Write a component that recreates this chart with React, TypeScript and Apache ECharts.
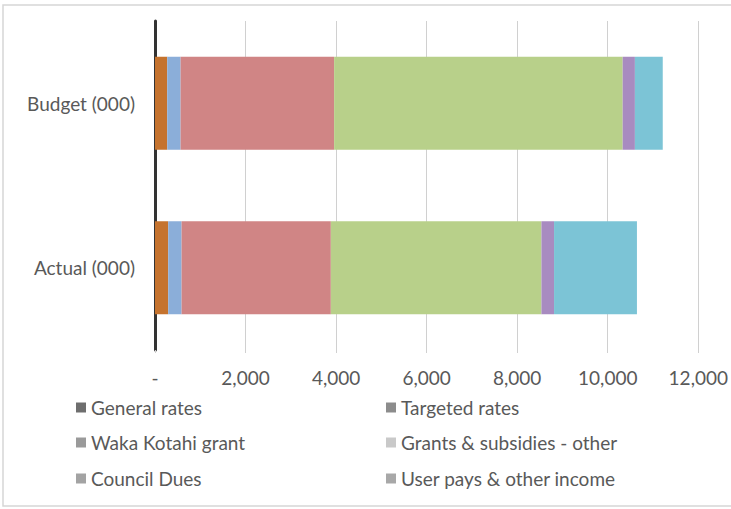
import React, { useEffect, useRef } from "react";
import * as echarts from "echarts";

const categories = ["Budget (000)", "Actual (000)"];
const seriesNames = [
  "General rates",
  "Targeted rates",
  "Waka Kotahi grant",
  "Grants & subsidies - other",
  "Council Dues",
  "User pays & other income",
];
const generalRates = [270, 292];
const targetedRates = [295, 295];
const wakaKotahi = [3391, 3297];
const grantsOther = [6374, 4651];
const councilDues = [270, 279];
const userPays = [615, 1831];
const seriesValues = [generalRates, targetedRates, wakaKotahi, grantsOther, councilDues, userPays];
const xTicks = [0, 2000, 4000, 6000, 8000, 10000, 12000];

const barColors = ["#C5732E", "#8BAED9", "#D08585", "#B8D08A", "#A88BC0", "#7CC4D6"];
const legendIconColors = ["#6e6e6e", "#8c8c8c", "#9a9a9a", "#c9c9c9", "#a3a3a3", "#a8a8a8"];
const legendPos = [
  [76, 398], [386, 398],
  [76, 433], [386, 433],
  [76, 469], [386, 469],
];

export default function App() {
  const ref = useRef<HTMLDivElement>(null);
  useEffect(() => {
    if (!ref.current) return;
    const chart = echarts.init(ref.current, null, { renderer: "svg" });
    const font = "Lato, 'Noto Sans', sans-serif";
    chart.setOption({
      animation: false,
      backgroundColor: "#ffffff",
      textStyle: { fontFamily: font },
      grid: { left: 155, right: 29, top: 21, bottom: 159, containLabel: false },
      xAxis: {
        type: "value",
        min: xTicks[0],
        max: xTicks[xTicks.length - 1],
        interval: 2000,
        axisLine: { show: false },
        axisTick: { show: true, length: 3, lineStyle: { color: "#d0d0d0" } },
        splitLine: { show: true, lineStyle: { color: "#d0d0d0", width: 1 } },
        axisLabel: {
          margin: 18,
          fontSize: 19,
          color: "#595959",
          fontFamily: font,
          formatter: (v: number) => (v === 0 ? "-" : v.toLocaleString("en-US")),
        },
      },
      yAxis: {
        type: "category",
        inverse: true,
        data: categories,
        axisLine: { show: true, lineStyle: { color: "#333333", width: 3 } },
        axisTick: { show: false },
        axisLabel: { margin: 20, fontSize: 19, color: "#595959", fontFamily: font },
      },
      legend: seriesNames.map((n, i) => ({
        data: [{ name: n, itemStyle: { color: legendIconColors[i] } }],
        left: legendPos[i][0],
        top: legendPos[i][1],
        padding: 0,
        itemWidth: 10,
        itemHeight: 10,
        icon: "rect",
        selectedMode: false,
        textStyle: { fontSize: 19, color: "#595959", fontFamily: font, padding: [0, 0, 0, 0] },
      })),
      series: seriesNames.map((n, i) => ({
        name: n,
        type: "bar",
        stack: "total",
        barWidth: "56.5%",
        data: seriesValues[i],
        itemStyle: { color: barColors[i] },
      })),
      graphic: [
        {
          type: "rect",
          shape: { x: 3, y: 5, width: 760, height: 501 },
          style: { fill: "none", stroke: "#d6d6d6", lineWidth: 1.5 },
          silent: true,
        },
      ],
    });
    return () => chart.dispose();
  }, []);
  return (
    <div
      ref={ref}
      style={{ position: "fixed", left: 0, top: 0, width: 731, height: 509 }}
    />
  );
}
